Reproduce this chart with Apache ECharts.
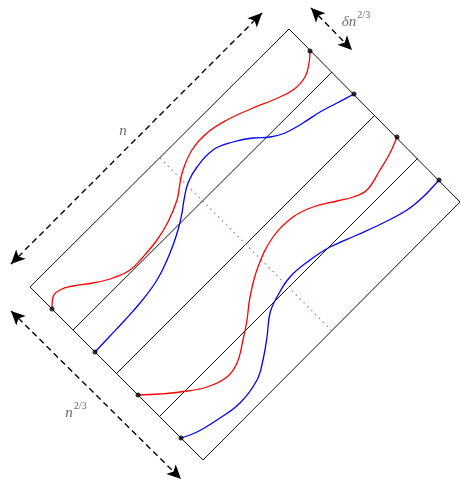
<!DOCTYPE html>
<html>
<head>
<meta charset="utf-8">
<script src="https://cdn.jsdelivr.net/npm/echarts@6/dist/echarts.min.js"></script>
<style>
  html, body { margin: 0; padding: 0; background: #fff; }
</style>
</head>
<body>
<div id="chart" style="width: 461px; height: 482px;"></div>
<script>
// picture units: x to the right, y downward
const frame = [[289, 29], [460, 202], [203, 460], [30, 287], [289, 29]];
const stripLines = [
  [[73, 330], [332, 72]],
  [[117, 373], [375, 115]],
  [[160, 416], [418, 158]],
];
const midLine = [[160, 158], [332, 331]];

const red1 = [[52, 309], [53, 297], [60, 290], [73, 286], [93, 283], [113, 278], [130, 270], [143, 257],
  [157, 240], [168, 222], [177, 200], [180, 183], [183, 170], [192, 150], [207, 133], [227, 120],
  [253, 108], [273, 100], [293, 90], [305, 77], [309, 63], [310, 51]];
const blue1 = [[95, 352], [110, 336], [125, 320], [140, 303], [157, 280], [170, 253], [178, 230],
  [182, 213], [184, 200], [188, 183], [197, 167], [213, 150], [233, 142], [253, 138], [270, 137],
  [285, 133], [303, 123], [320, 112], [337, 103], [354, 94]];
const red2 = [[138, 395], [160, 394], [180, 392], [207, 387], [227, 377], [237, 363], [243, 340],
  [247, 320], [250, 297], [258, 267], [273, 237], [293, 217], [313, 207], [337, 201], [353, 197],
  [367, 190], [380, 170], [390, 153], [397, 137]];
const blue2 = [[181, 438], [197, 432], [217, 420], [240, 403], [257, 380], [263, 360], [267, 337],
  [270, 313], [277, 297], [290, 277], [310, 260], [330, 247], [357, 235], [383, 223], [407, 210],
  [423, 197], [439, 180]];

const endDots = [[52, 309], [310, 51], [95, 352], [354, 94], [138, 395], [397, 137], [181, 438], [439, 180]];

const arrows = [
  [[11, 264], [262, 13]],
  [[11, 311], [181, 479]],
  [[311, 8], [352, 50]],
];
const labels = [
  { name: 'n', value: [123, 128] },
  { name: 'n2/3', value: [76, 410] },
  { name: 'dn2/3', value: [356, 19] },
];

const chart = echarts.init(document.getElementById('chart'));

function seg(data, color, width, type) {
  return {
    type: 'line',
    data: data,
    symbol: 'none',
    silent: true,
    animation: false,
    lineStyle: { color: color, width: width, type: type || 'solid' },
  };
}

function curve(data, color) {
  const s = seg(data, color, 1.3);
  s.smooth = 0.4;
  s.z = 3;
  return s;
}

const series = [];
series.push(seg(frame, '#111', 1));
stripLines.forEach((l) => series.push(seg(l, '#111', 1)));
series.push(seg(midLine, '#c07070', 1.2, [1.5, 4]));
series.push(curve(red1, '#ff0000'));
series.push(curve(blue1, '#0000ff'));
series.push(curve(red2, '#ff0000'));
series.push(curve(blue2, '#0000ff'));
series.push({
  type: 'scatter',
  data: endDots,
  symbol: 'circle',
  symbolSize: 5,
  itemStyle: { color: '#000' },
  z: 5,
  silent: true,
  animation: false,
});
series.push({
  type: 'line',
  data: [],
  silent: true,
  animation: false,
  markLine: {
    silent: true,
    animation: false,
    symbol: ['arrow', 'arrow'],
    symbolSize: [10, 14],
    label: { show: false },
    lineStyle: { color: '#000', width: 1.4, type: [6, 4] },
    data: arrows.map((a) => [{ coord: a[0] }, { coord: a[1] }]),
  },
});
series.push({
  type: 'scatter',
  data: labels,
  symbolSize: 0,
  silent: true,
  animation: false,
  label: {
    show: true,
    position: 'inside',
    color: '#444',
    fontFamily: 'Liberation Serif',
    fontStyle: 'italic',
    fontSize: 15,
    formatter: (p) => {
      if (p.name === 'n') return '{m|n}';
      if (p.name === 'n2/3') return '{m|n}{s|2/3}';
      return '{m|\u03b4n}{s|2/3}';
    },
    rich: {
      m: { fontFamily: 'Liberation Serif', fontStyle: 'italic', fontSize: 15, color: '#444', padding: [6, 0, 0, 0] },
      s: { fontFamily: 'Liberation Serif', fontStyle: 'normal', fontSize: 10, color: '#444', padding: [0, 0, 7, 1] },
    },
  },
});

const option = {
  animation: false,
  grid: { left: 0, right: 0, top: 0, bottom: 0 },
  xAxis: { type: 'value', min: 0, max: 461, show: false },
  yAxis: { type: 'value', min: 0, max: 482, inverse: true, show: false },
  series: series,
};
chart.setOption(option);
</script>
</body>
</html>
